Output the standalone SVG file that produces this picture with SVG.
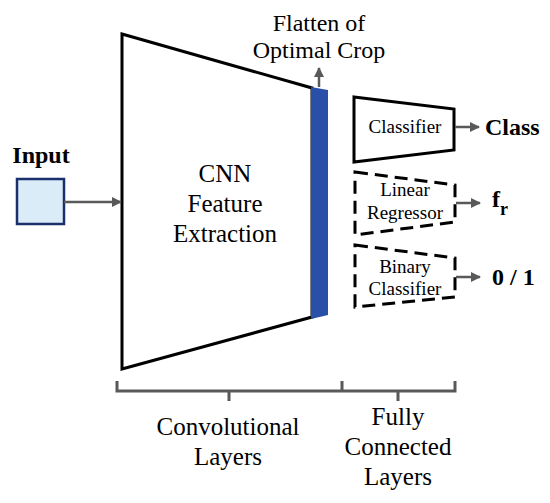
<svg xmlns="http://www.w3.org/2000/svg" width="550" height="503" viewBox="0 0 550 503" font-family="'Liberation Serif', 'Times New Roman', serif">
<style>
text{font-family:'Liberation Serif','Times New Roman',serif;fill:#000}
.t{font-size:25px;text-anchor:middle}
.s{font-size:19px;text-anchor:middle}
.b{font-size:24px;font-weight:bold}
.con{stroke:#595959;stroke-width:2.5;fill:none}
.box{fill:#fff;stroke:#000;stroke-width:3;stroke-linejoin:miter}
.dash{fill:#fff;stroke:#000;stroke-width:3;stroke-dasharray:13 7}
.br{stroke:#595959;stroke-width:3;fill:none}
</style>
<defs>
<marker id="ah" markerWidth="10" markerHeight="10" refX="9" refY="5" orient="auto" markerUnits="userSpaceOnUse">
<path d="M0,0 L10,5 L0,10 z" fill="#595959"/>
</marker>
</defs>
<rect width="550" height="503" fill="#fff"/>
<g id="input">
<text class="b" x="41" y="163" text-anchor="middle">Input</text>
<rect x="17" y="179" width="47" height="45" fill="#d9ecf8" stroke="#1a2f6b" stroke-width="2.5"/>
</g>
<g id="cnn">
<polygon class="box" points="122,34 312,88 312,317 122,369"/>
<text class="t" x="225" y="182">CNN</text>
<text class="t" x="225" y="212">Feature</text>
<text class="t" x="225" y="242">Extraction</text>
</g>
<g id="flatten">
<polygon points="311,87 328,90 328,315 311,319" fill="#2a4fa8"/>
</g>
<g id="flatten-label">
<text class="t" x="319" y="31" style="font-size:24px">Flatten of</text>
<text class="t" x="319" y="58" style="font-size:24px">Optimal Crop</text>
</g>
<g id="classifier">
<polygon class="box" points="354,97 454,109 454,150 354,162"/>
<text class="s" x="405" y="133">Classifier</text>
</g>
<g id="regressor">
<polygon class="dash" points="355,172 455,185 455,222 355,235"/>
<text class="s" x="405" y="196">Linear</text>
<text class="s" x="405" y="219">Regressor</text>
</g>
<g id="binary">
<polygon class="dash" points="355,245 455,258 455,297 355,307"/>
<text class="s" x="405" y="273">Binary</text>
<text class="s" x="405" y="295">Classifier</text>
</g>
<g id="outputs">
<text class="b" x="485" y="135">Class</text>
<text class="b" x="492" y="207">f<tspan style="font-size:18px" dy="8">r</tspan></text>
<text class="b" x="492" y="285">0 / 1</text>
</g>
<g id="connectors">
<line class="con" x1="64" y1="202" x2="121" y2="202" marker-end="url(#ah)"/>
<line class="con" x1="319" y1="87" x2="319" y2="68" marker-end="url(#ah)"/>
<line class="con" x1="455" y1="127" x2="479" y2="127" marker-end="url(#ah)"/>
<line class="con" x1="456" y1="203" x2="480" y2="203" marker-end="url(#ah)"/>
<line class="con" x1="456" y1="277" x2="480" y2="277" marker-end="url(#ah)"/>
</g>
<g id="bracket">
<path class="br" d="M117,381 V391 H455 V381 M342,381 V391 M229,391 V401 M398,391 V401"/>
<text class="t" x="228" y="435">Convolutional</text>
<text class="t" x="228" y="465">Layers</text>
<text class="t" x="398" y="425">Fully</text>
<text class="t" x="398" y="455">Connected</text>
<text class="t" x="398" y="485">Layers</text>
</g>
</svg>
